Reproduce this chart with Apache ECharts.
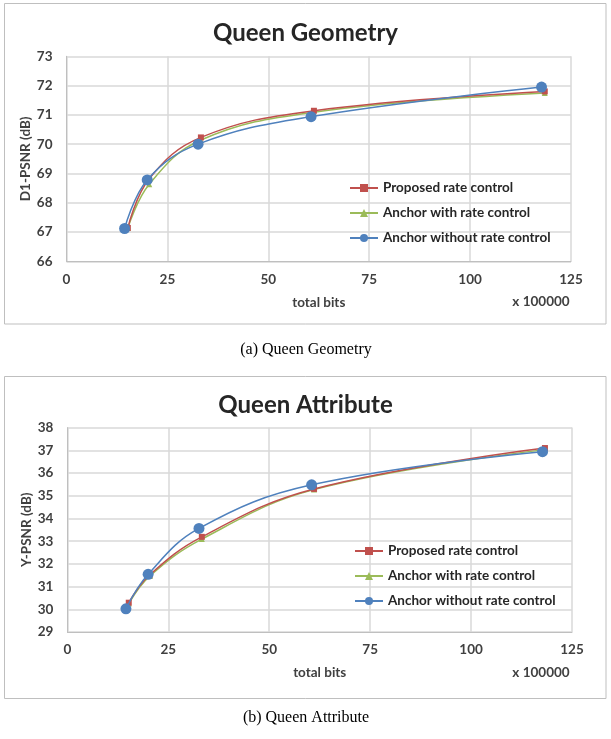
<!DOCTYPE html>
<html><head><meta charset="utf-8">
<script src="https://cdn.jsdelivr.net/npm/echarts@6/dist/echarts.min.js"></script>
<style>html,body{margin:0;padding:0;background:#fff}#c{width:611px;height:739px}</style>
</head><body><div id="c"></div>
<script>
const seriesNames = ['Proposed rate control','Anchor with rate control','Anchor without rate control'];
const xTicks = [0,25,50,75,100,125];
// Queen Geometry (x in units of 100000 bits, y D1-PSNR dB)
const geoProposed = [[15.2,67.14],[20.4,68.80],[33.3,70.23],[61.3,71.14],[118.5,71.80]];
const geoAnchorRC = [[15.2,67.14],[20.5,68.63],[33.3,70.14],[61.2,71.09],[118.5,71.75]];
const geoAnchorNoRC = [[14.4,67.12],[20.0,68.78],[32.6,70.00],[60.6,70.94],[117.7,71.95]];
// Queen Attribute (y Y-PSNR dB)
const attProposed = [[15.2,30.29],[20.3,31.50],[33.3,33.19],[61.1,35.30],[118.3,37.10]];
const attAnchorRC = [[15.2,30.25],[20.5,31.48],[33.3,33.09],[61.1,35.27],[118.3,37.03]];
const attAnchorNoRC = [[14.5,30.02],[20.0,31.54],[32.6,33.56],[60.5,35.48],[117.7,36.94]];

const colors = ['#C0504D','#9BBB59','#4F81BD'];
const symbols = ['rect','triangle','circle'];
const symSizes = [6,6,11];
const FONT = 'Lato';
const txt = '#404040';

const chart = echarts.init(document.getElementById('c'), null, {renderer:'canvas'});

function xAx(idx){
  return {gridIndex:idx,type:'value',min:0,max:125,interval:25,
    name:'total bits',nameLocation:'middle',nameGap:34,nameMoveOverlap:false,
    nameTextStyle:{fontFamily:FONT,fontWeight:'bold',fontSize:13.5,color:txt},
    axisLine:{show:true,lineStyle:{color:'#BFBFBF',width:1}},axisTick:{show:false},
    axisLabel:{margin:11,fontFamily:FONT,fontWeight:'bold',fontSize:13.5,color:txt},
    splitLine:{show:true,lineStyle:{color:'#D9D9D9',width:1.5}}};
}
function yAx(idx,min,max,name){
  return {gridIndex:idx,type:'value',min:min,max:max,interval:1,
    name:name,nameLocation:'middle',nameGap:34,nameMoveOverlap:false,
    nameTextStyle:{fontFamily:FONT,fontWeight:'bold',fontSize:13.5,color:txt},
    axisLine:{show:true,lineStyle:{color:'#BFBFBF',width:1}},axisTick:{show:false},
    axisLabel:{margin:14,fontFamily:FONT,fontWeight:'bold',fontSize:13.5,color:txt},
    splitLine:{show:true,lineStyle:{color:'#D9D9D9',width:1.5}}};
}
function mk(name,data,i,gi){
  return {name:name,type:'line',xAxisIndex:gi,yAxisIndex:gi,data:data,smooth:0.4,
    symbol:symbols[i],symbolSize:symSizes[i],showSymbol:true,
    lineStyle:{color:colors[i],width:1.5},itemStyle:{color:colors[i]},z:3-i+ (i===2?5:0)};
}
function legend(left,top){
  return {left:left,top:top,orient:'vertical',itemGap:11,itemWidth:28,itemHeight:10,
    data:seriesNames,textStyle:{fontFamily:FONT,fontWeight:'bold',fontSize:13.5,color:'#262626'}};
}

chart.setOption({
  animation:false,
  title:[
    {text:'Queen Geometry',left:'center',top:16,textStyle:{fontFamily:FONT,fontWeight:'bold',fontSize:24,color:'#262626'}},
    {text:'Queen Attribute',left:'center',top:388,textStyle:{fontFamily:FONT,fontWeight:'bold',fontSize:24,color:'#262626'}}
  ],
  legend:[legend(344,176),legend(349,539)],
  grid:[
    {left:66.5,width:504.5,top:56.3,height:205,containLabel:false},
    {left:67.4,width:504.6,top:427.6,height:204.4,containLabel:false}
  ],
  xAxis:[xAx(0),xAx(1)],
  yAxis:[yAx(0,66,73,'D1-PSNR (dB)'),yAx(1,29,38,'Y-PSNR (dB)')],
  series:[
    mk(seriesNames[0],geoProposed,0,0),mk(seriesNames[1],geoAnchorRC,1,0),mk(seriesNames[2],geoAnchorNoRC,2,0),
    mk(seriesNames[0],attProposed,0,1),mk(seriesNames[1],attAnchorRC,1,1),mk(seriesNames[2],attAnchorNoRC,2,1)
  ],
  graphic:[
    {type:'rect',shape:{x:4.5,y:3.5,width:601.5,height:320.5},style:{fill:'none',stroke:'#BFBFBF',lineWidth:1},z:-1},
    {type:'rect',shape:{x:4.5,y:376.5,width:601.5,height:322},style:{fill:'none',stroke:'#BFBFBF',lineWidth:1},z:-1},
    {type:'text',x:541,y:301.5,style:{text:'x 100000',font:'bold 13.5px Lato',fill:txt,textAlign:'center',textVerticalAlign:'middle'}},
    {type:'text',x:541,y:673,style:{text:'x 100000',font:'bold 13.5px Lato',fill:txt,textAlign:'center',textVerticalAlign:'middle'}},
    {type:'text',x:306,y:350,style:{text:'(a) Queen Geometry',font:'16px "Liberation Serif"',fill:'#000',textAlign:'center',textVerticalAlign:'middle'}},
    {type:'text',x:306,y:718,style:{text:'(b) Queen Attribute',font:'16px "Liberation Serif"',fill:'#000',textAlign:'center',textVerticalAlign:'middle'}}
  ]
});
</script></body></html>
